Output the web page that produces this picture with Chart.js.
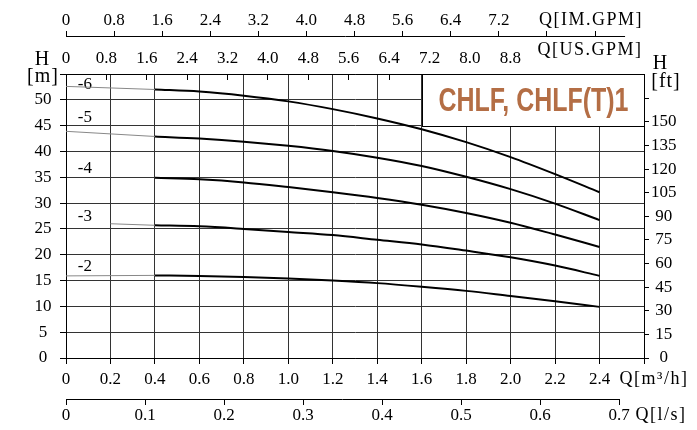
<!DOCTYPE html>
<html>
<head>
<meta charset="utf-8">
<script src="https://cdn.jsdelivr.net/npm/chart.js@4.4.0/dist/chart.umd.min.js"></script>
<style>
body { margin: 0; background: #fff; }
#wrap { width: 697px; height: 430px; }
</style>
</head>
<body>
<div id="wrap"><canvas id="pumpChart" width="697" height="430"></canvas></div>
<script>
const flowQ = [0.4, 0.6, 0.8, 1.0, 1.2, 1.4, 1.6, 1.8, 2.0, 2.2, 2.4];
const head2 = [16.0, 15.9, 15.7, 15.4, 15.0, 14.5, 13.8, 13.0, 12.0, 11.0, 9.9];
const head3 = [25.7, 25.5, 25.0, 24.4, 23.8, 22.9, 22.0, 20.8, 19.5, 17.9, 15.9];
const head4 = [34.9, 34.6, 34.0, 33.1, 32.1, 31.0, 29.7, 28.1, 26.2, 23.9, 21.5];
const head5 = [42.9, 42.5, 41.9, 41.1, 40.1, 38.8, 37.2, 35.1, 32.7, 29.9, 26.7];
const head6 = [52.0, 51.6, 50.8, 49.7, 48.2, 46.4, 44.3, 41.8, 38.9, 35.6, 32.1];

// thin lead-in part of the curves, left of 0.4 m3/h
const lead2Q = [0, 0.4], lead2H = [15.9, 16.0];
const lead3Q = [0.2, 0.4], lead3H = [26.0, 25.7];
const lead5Q = [0, 0.4], lead5H = [43.9, 42.9];
const lead6Q = [0, 0.4], lead6H = [52.6, 52.0];

const stageNames = ["-2", "-3", "-4", "-5", "-6"];
const title = "CHLF, CHLF(T)1";

const m3hTicks = [0, 0.2, 0.4, 0.6, 0.8, 1.0, 1.2, 1.4, 1.6, 1.8, 2.0, 2.2, 2.4, 2.6];
const m3hLabels = ["0", "0.2", "0.4", "0.6", "0.8", "1.0", "1.2", "1.4", "1.6", "1.8", "2.0", "2.2", "2.4", ""];
const lsTicks = [0, 0.1, 0.2, 0.3, 0.4, 0.5, 0.6, 0.7];
const lsLabels = ["0", "0.1", "0.2", "0.3", "0.4", "0.5", "0.6", "0.7"];
const usTicks = [0, 0.8, 1.6, 2.4, 3.2, 4.0, 4.8, 5.6, 6.4, 7.2, 8.0, 8.8, 9.6, 10.4, 11.2];
const usLabels = ["0", "0.8", "1.6", "2.4", "3.2", "4.0", "4.8", "5.6", "6.4", "7.2", "8.0", "8.8", "", "", ""];
const imTicks = [0, 0.8, 1.6, 2.4, 3.2, 4.0, 4.8, 5.6, 6.4, 7.2, 8.0, 8.8];
const imLabels = ["0", "0.8", "1.6", "2.4", "3.2", "4.0", "4.8", "5.6", "6.4", "7.2", "", ""];
const meterTicks = [0, 5, 10, 15, 20, 25, 30, 35, 40, 45, 50, 55];
const meterLabels = ["0", "5", "10", "15", "20", "25", "30", "35", "40", "45", "50", ""];
const feetTicks = [0, 15, 30, 45, 60, 75, 90, 105, 120, 135, 150, 165];
const feetLabels = ["0", "15", "30", "45", "60", "75", "90", "105", "120", "135", "150", ""];

const serif = '"Liberation Serif", "Times New Roman", serif';
Chart.defaults.font.family = serif;
Chart.defaults.font.size = 17;
Chart.defaults.color = "#000";

const curve = (qs, hs, width, color) => ({
  data: qs.map((q, i) => ({ x: q, y: hs[i] })),
  borderColor: color,
  borderWidth: width,
  pointRadius: 0,
  cubicInterpolationMode: "monotone",
  fill: false
});

const fixedTicks = vals => s => { s.ticks = vals.map(v => ({ value: v })); };
const fixedLabels = labels => (v, i) => labels[i];

const txt = (ctx, s, x, y, font, align, spacing) => {
  ctx.font = font;
  ctx.textAlign = align || "center";
  ctx.textBaseline = "middle";
  ctx.letterSpacing = spacing || "0px";
  ctx.fillText(s, x, y);
  ctx.letterSpacing = "0px";
};

const decor = {
  id: "decor",
  beforeDatasetsDraw(chart) {
    const { ctx, scales: { x, y } } = chart;
    const l = Math.round(x.getPixelForValue(1.6)) + 0.5;
    const r = Math.round(x.getPixelForValue(2.6)) + 0.5;
    const t = Math.round(y.getPixelForValue(55)) + 0.5;
    const b = Math.round(y.getPixelForValue(45)) + 0.5;
    ctx.save();
    ctx.fillStyle = "#fff";
    ctx.fillRect(l, t, r - l, b - t);
    ctx.strokeStyle = "#000";
    ctx.lineWidth = 1;
    ctx.strokeRect(l, t, r - l, b - t);
    ctx.font = 'bold 34px "Liberation Sans", Arial, sans-serif';
    const w = ctx.measureText(title).width;
    ctx.translate((l + r) / 2, (t + b) / 2 + 1);
    ctx.scale(190 / w, 1);
    ctx.fillStyle = "#b46e45";
    ctx.textAlign = "center";
    ctx.textBaseline = "middle";
    ctx.fillText(title, 0, 0);
    ctx.restore();

    // stage labels
    ctx.save();
    const labelH = [17.8, 27.4, 36.7, 46.6, 52.9];
    ctx.font = "17px " + serif;
    stageNames.forEach((n, i) => {
      const px = x.getPixelForValue(0.085);
      const py = y.getPixelForValue(labelH[i]);
      const tw = ctx.measureText(n).width;
      ctx.fillStyle = "#fff";
      ctx.fillRect(px - tw / 2 - 1, py - 6, tw + 2, 12);
      ctx.fillStyle = "#000";
      txt(ctx, n, px, py, "17px " + serif);
    });
    ctx.restore();
  },
  afterDraw(chart) {
    const { ctx, scales: { x3, x4 } } = chart;
    ctx.save();
    ctx.strokeStyle = "#000";
    ctx.lineWidth = 1;
    ctx.beginPath();
    const yIm = Math.round(x3.bottom) - 0.5;
    ctx.moveTo(x3.getPixelForValue(0), yIm);
    ctx.lineTo(x3.getPixelForValue(9.3), yIm);
    const yLs = Math.round(x4.top) + 0.5;
    ctx.moveTo(x4.getPixelForValue(0), yLs);
    ctx.lineTo(x4.getPixelForValue(0.7), yLs);
    ctx.stroke();

    ctx.fillStyle = "#000";
    const unit = "18px " + serif;
    txt(ctx, "Q[IM.GPM]", 591, 20, unit, "center", "1.5px");
    txt(ctx, "Q[US.GPM]", 590, 50, unit, "center", "1.5px");
    txt(ctx, "Q[m³/h]", 654, 379, unit, "center", "1.5px");
    txt(ctx, "Q[l/s]", 661, 415, unit, "center", "1.5px");
    const big = "20px " + serif;
    txt(ctx, "H", 42, 60, big);
    txt(ctx, "[m]", 43, 77, big, "center", "1px");
    txt(ctx, "H", 660, 64, big);
    txt(ctx, "[ft]", 666, 82, big, "center", "1px");
    ctx.restore();
  }
};

new Chart(document.getElementById("pumpChart"), {
  type: "line",
  data: {
    datasets: [
      curve(lead2Q, lead2H, 1, "#888"),
      curve(lead3Q, lead3H, 1, "#888"),
      curve(lead5Q, lead5H, 1, "#888"),
      curve(lead6Q, lead6H, 1, "#888"),
      curve(flowQ, head2, 2, "#000"),
      curve(flowQ, head3, 2, "#000"),
      curve(flowQ, head4, 2, "#000"),
      curve(flowQ, head5, 2, "#000"),
      curve(flowQ, head6, 2, "#000")
    ]
  },
  options: {
    responsive: false,
    animation: false,
    devicePixelRatio: 1,
    layout: { padding: 0 },
    plugins: { legend: { display: false }, tooltip: { enabled: false } },
    scales: {
      x: {
        type: "linear", position: "bottom", min: 0, max: 2.6, weight: 1,
        afterBuildTicks: fixedTicks(m3hTicks),
        afterFit: s => { s.height = 41; },
        ticks: { callback: fixedLabels(m3hLabels), autoSkip: false, maxRotation: 0, padding: 5 },
        grid: { color: "#333", tickColor: "#000", tickLength: 6 },
        border: { color: "#000" }
      },
      x4: {
        type: "linear", position: "bottom", min: 0, max: 0.7316, weight: 2,
        afterBuildTicks: fixedTicks(lsTicks),
        afterFit: s => { s.height = 31; },
        ticks: { callback: fixedLabels(lsLabels), autoSkip: false, maxRotation: 0, padding: 0 },
        grid: { drawOnChartArea: false, tickColor: "#000", tickLength: 6 },
        border: { display: false }
      },
      x2: {
        type: "linear", position: "top", min: 0, max: 11.448, weight: 1,
        afterBuildTicks: fixedTicks(usTicks),
        afterFit: s => { s.height = 37; },
        ticks: { callback: fixedLabels(usLabels), autoSkip: false, maxRotation: 0, padding: 11 },
        grid: { drawOnChartArea: false, tickColor: "#000", tickLength: -6 },
        border: { color: "#000" }
      },
      x3: {
        type: "linear", position: "top", min: 0, max: 9.615, weight: 2,
        afterBuildTicks: fixedTicks(imTicks),
        afterFit: s => { s.height = 37; },
        ticks: { callback: fixedLabels(imLabels), autoSkip: false, maxRotation: 0, padding: 0 },
        grid: { drawOnChartArea: false, tickColor: "#000", tickLength: 6 },
        border: { display: false }
      },
      y: {
        type: "linear", position: "left", min: 0, max: 55,
        afterBuildTicks: fixedTicks(meterTicks),
        afterFit: s => { s.width = 66; },
        ticks: { callback: fixedLabels(meterLabels), crossAlign: "center", padding: 8.5 },
        grid: { color: "#333", tickColor: "#000", tickLength: 6 },
        border: { color: "#000" }
      },
      y2: {
        type: "linear", position: "right", min: 0, max: 55 * 3.28084,
        afterBuildTicks: fixedTicks(feetTicks),
        afterFit: s => { s.width = 53; },
        ticks: { callback: fixedLabels(feetLabels), crossAlign: "center", padding: 2 },
        grid: { drawOnChartArea: false, tickColor: "#000", tickLength: 5 },
        border: { color: "#000" }
      }
    }
  },
  plugins: [decor]
});
</script>
</body>
</html>
